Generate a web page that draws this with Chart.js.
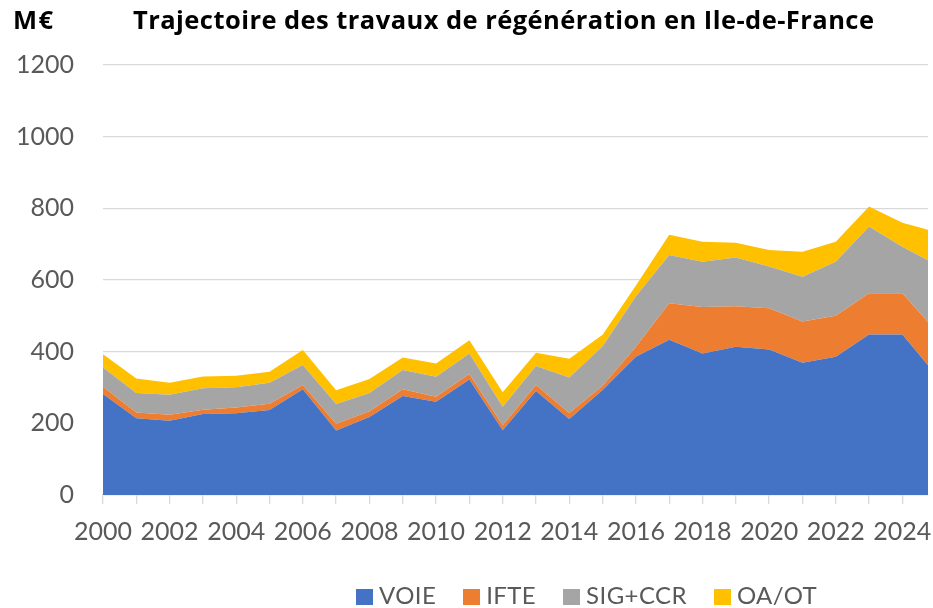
<!DOCTYPE html>
<html lang="fr">
<head>
<meta charset="utf-8">
<title>Trajectoire des travaux de régénération en Ile-de-France</title>
<script src="https://cdn.jsdelivr.net/npm/chart.js@4.4.1/dist/chart.umd.min.js"></script>
<style>
    html, body { margin: 0; padding: 0; background: #fff; overflow: hidden; }
    #wrap { position: relative; width: 933px; height: 608px; font-family: Lato, "Open Sans", sans-serif; }
    #chart { position: absolute; left: 0; top: 0; }
    .unit, .title { position: absolute; top: 4px; font-family: "Open Sans", Lato, sans-serif; font-size: 25.5px; line-height: 1.2; font-weight: 700; color: #000; white-space: nowrap; letter-spacing: 0.45px; }
    .unit { left: 13px; letter-spacing: 1.5px; }
    .title { left: 133px; }
    #legend { position: absolute; left: 356px; top: 581px; height: 29px; display: flex; font-size: 24px; line-height: 1.2; color: #595959; }
    .legend-item { display: flex; margin-right: 27px; letter-spacing: 0.4px; }
    .legend-box { width: 17px; height: 16px; margin-top: 8px; margin-right: 6px; }
</style>
</head>
<body>
<div id="wrap">
    <canvas id="chart" width="933" height="608"></canvas>
    <div class="unit">M€</div>
    <div class="title">Trajectoire des travaux de régénération en Ile-de-France</div>
    <div id="legend"></div>
</div>
<script>
// Valeurs (M€), par couche
const years = [2000, 2001, 2002, 2003, 2004, 2005, 2006, 2007, 2008, 2009, 2010, 2011, 2012,
               2013, 2014, 2015, 2016, 2017, 2018, 2019, 2020, 2021, 2022, 2023, 2024, 2025];
const voie = [282, 214, 207, 226, 228, 237, 295, 180, 218, 276, 260, 322, 181,
              290, 212, 293, 386, 433, 395, 414, 406, 369, 386, 448, 448, 336];
const ifte = [20, 16, 17, 12, 16, 18, 12, 19, 16, 19, 14, 16, 14,
              17, 17, 12, 28, 102, 130, 113, 115, 115, 114, 115, 115, 123];
const sigCcr = [54, 55, 56, 60, 57, 58, 56, 55, 51, 54, 56, 57, 51,
                53, 99, 110, 141, 135, 126, 136, 117, 125, 151, 186, 130, 185];
const oaOt = [37, 40, 33, 33, 32, 31, 42, 38, 39, 35, 37, 37, 41,
              37, 52, 32, 30, 56, 56, 41, 46, 70, 56, 56, 67, 90];

const seriesNames = ['VOIE', 'IFTE', 'SIG+CCR', 'OA/OT'];
const seriesColors = ['#4472C4', '#ED7D31', '#A5A5A5', '#FFC000'];
const yTicks = [0, 200, 400, 600, 800, 1000, 1200];
const xLabelYears = [2000, 2002, 2004, 2006, 2008, 2010, 2012, 2014, 2016, 2018, 2020, 2022, 2024];

// the picture is cut a bit after 2024
const xMin = 2000;
const xMax = 2024.77;

document.addEventListener('DOMContentLoaded', function() {
    buildLegend();
    drawChart();
});

function toPoints(values) {
    return values.map((v, i) => ({ x: years[i], y: v }));
}

function buildLegend() {
    const legend = document.getElementById('legend');
    seriesNames.forEach((name, i) => {
        const item = document.createElement('div');
        item.className = 'legend-item';
        item.innerHTML = `<span class="legend-box" style="background:${seriesColors[i]}"></span><span>${name}</span>`;
        legend.appendChild(item);
    });
}

function drawChart() {
    const ctx = document.getElementById('chart').getContext('2d');
    const allValues = [voie, ifte, sigCcr, oaOt];

    new Chart(ctx, {
        type: 'line',
        data: {
            datasets: allValues.map((values, i) => ({
                label: seriesNames[i],
                data: toPoints(values),
                backgroundColor: seriesColors[i],
                borderColor: 'rgba(0,0,0,0)',
                borderWidth: 0,
                pointRadius: 0,
                tension: 0,
                fill: i === 0 ? 'origin' : '-1'
            }))
        },
        options: {
            responsive: false,
            animation: false,
            layout: {
                padding: { top: 65, right: 5, left: 0, bottom: 0 }
            },
            plugins: {
                legend: { display: false },
                title: { display: false },
                tooltip: { enabled: false }
            },
            scales: {
                x: {
                    type: 'linear',
                    min: xMin,
                    max: xMax,
                    afterBuildTicks: function(axis) {
                        axis.ticks = years.filter(y => y <= xMax).map(y => ({ value: y }));
                    },
                    afterFit: function(axis) {
                        axis.height = 113;
                        // labels may overflow the edges, don't shrink the plot for them
                        axis.paddingLeft = 0;
                        axis.paddingRight = 0;
                    },
                    ticks: {
                        autoSkip: false,
                        maxRotation: 0,
                        padding: 13,
                        color: '#595959',
                        font: { family: 'Lato', size: 25 },
                        callback: function(value) {
                            return xLabelYears.includes(value) ? String(value) : '';
                        }
                    },
                    grid: {
                        drawOnChartArea: false,
                        drawTicks: true,
                        tickLength: 9,
                        color: '#d9d9d9',
                        lineWidth: 1.3
                    },
                    border: { display: true, color: '#d9d9d9', width: 1.3 }
                },
                y: {
                    stacked: true,
                    min: 0,
                    max: 1200,
                    afterBuildTicks: function(axis) {
                        axis.ticks = yTicks.map(v => ({ value: v }));
                    },
                    afterFit: function(axis) {
                        axis.width = 103;
                    },
                    ticks: {
                        padding: 29,
                        color: '#595959',
                        font: { family: 'Lato', size: 25 },
                        callback: value => String(value)
                    },
                    grid: {
                        drawTicks: false,
                        color: '#d9d9d9',
                        lineWidth: 1.3
                    },
                    border: { display: false }
                }
            }
        }
    });
}
</script>
</body>
</html>
